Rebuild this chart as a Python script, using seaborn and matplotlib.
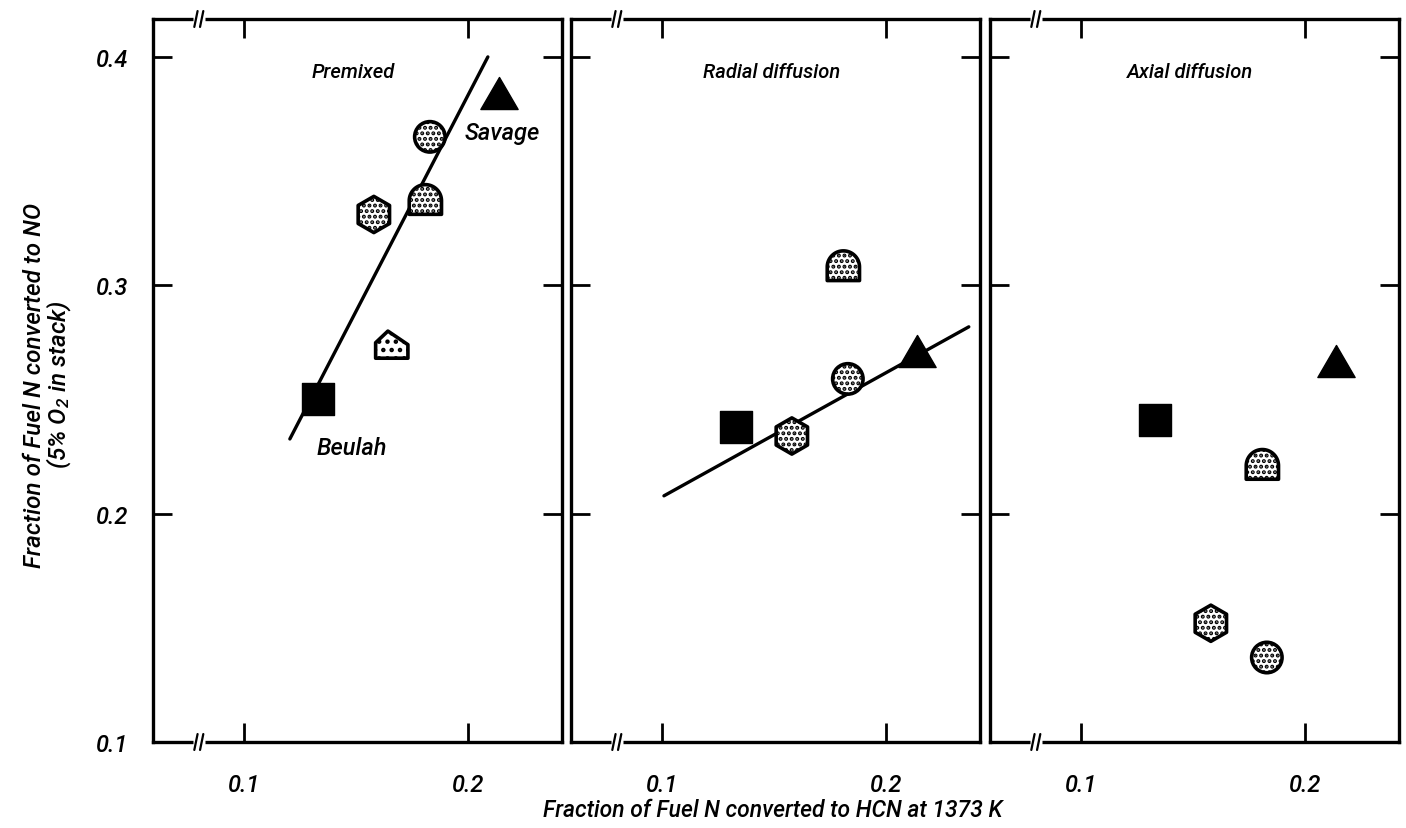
import numpy as np
import pandas as pd
import matplotlib
matplotlib.use("Agg")
import matplotlib.pyplot as plt
from matplotlib.path import Path
import seaborn as sns

# ---------------- data ----------------
coals = ["Beulah", "Savage", "Coal C", "Coal D", "Coal E", "Coal F"]
hcn_fraction = [0.133, 0.214, 0.183, 0.181, 0.158, 0.166]
no_premixed = [0.250, 0.384, 0.365, 0.337, 0.331, 0.274]
no_radial = [0.238, 0.271, 0.259, 0.308, 0.234, np.nan]
no_axial = [0.241, 0.267, 0.137, 0.221, 0.152, np.nan]
panel_titles = ["Premixed", "Radial diffusion", "Axial diffusion"]
premixed_fit_x = [0.1205, 0.2089]
premixed_fit_y = [0.2327, 0.400]
radial_fit_x = [0.1009, 0.237]
radial_fit_y = [0.2078, 0.2818]
x_ticks = [0.1, 0.2]
x_tick_labels = ["0.1", "0.2"]
y_ticks = [0.1, 0.2, 0.3, 0.4]
y_tick_labels = ["0.1", "0.2", "0.3", "0.4"]

# ---------------- style ----------------
sns.set_theme(style="white")
plt.rcParams["font.family"] = ["Roboto", "Liberation Sans", "DejaVu Sans"]
plt.rcParams["font.style"] = "italic"
plt.rcParams["font.weight"] = "medium"
plt.rcParams["text.color"] = "black"
plt.rcParams["xtick.color"] = "black"
plt.rcParams["ytick.color"] = "black"
plt.rcParams["mathtext.fontset"] = "custom"
plt.rcParams["mathtext.rm"] = "Roboto:italic:medium"
plt.rcParams["mathtext.it"] = "Roboto:italic:medium"
plt.rcParams["hatch.linewidth"] = 2.0
plt.rcParams["axes.edgecolor"] = "black"

# custom marker shapes
theta = np.linspace(0, np.pi, 40)
dome_verts = [(0.5 * np.cos(t), 0.5 * np.sin(t)) for t in theta]
dome_verts += [(-0.5, -0.42), (0.5, -0.42), (0.5, 0.0), (0.5, 0.0)]
dome = Path(dome_verts, closed=True)
house = Path([(-0.5, -0.42), (0.5, -0.42), (0.5, 0.0), (-0.12, 0.42),
              (-0.5, 0.06), (-0.5, -0.42)], closed=True)
tri = Path([(-0.5, -0.43), (0.5, -0.43), (0.0, 0.43), (-0.5, -0.43)], closed=True)

styles = {
    "Beulah": dict(marker="s", color="black", s=500, hatch=None, lw=1.0),
    "Savage": dict(marker=tri, color="black", s=720, hatch=None, lw=1.0),
    "Coal C": dict(marker="o", color="white", s=480, hatch="...", lw=2.6),
    "Coal D": dict(marker=dome, color="white", s=540, hatch="...", lw=2.6),
    "Coal E": dict(marker="h", color="white", s=680, hatch="...", lw=2.6),
    "Coal F": dict(marker=house, color="white", s=540, hatch="..", lw=2.6),
}

df = pd.DataFrame({
    "coal": coals * 3,
    "hcn": hcn_fraction * 3,
    "no": no_premixed + no_radial + no_axial,
    "mode": [panel_titles[0]] * 6 + [panel_titles[1]] * 6 + [panel_titles[2]] * 6,
})

W, H = 1406, 829
fig = plt.figure(figsize=(W / 100, H / 100), dpi=100)
lefts = [153, 571, 990]
axes = []
for i, l in enumerate(lefts):
    ax = fig.add_axes([l / W, (H - 743) / H, 409 / W, 723 / H])
    axes.append(ax)


def add_break(ax, xf):
    for yb in (0.0, 1.0):
        ax.plot([xf - 0.014, xf + 0.014], [yb, yb], transform=ax.transAxes,
                color="white", lw=5, clip_on=False, zorder=10,
                solid_capstyle="butt")
        for dx in (-0.007, 0.007):
            ax.plot([xf + dx - 0.004, xf + dx + 0.004], [yb - 0.011, yb + 0.011],
                    transform=ax.transAxes, color="black", lw=1.6,
                    clip_on=False, zorder=11)


for i, ax in enumerate(axes):
    mode = panel_titles[i]
    sub = df[(df["mode"] == mode) & df["no"].notna()]
    for c in coals:
        d = sub[sub["coal"] == c]
        if d.empty:
            continue
        st = styles[c]
        sns.scatterplot(data=d, x="hcn", y="no", ax=ax, marker=st["marker"],
                        s=st["s"], color=st["color"], edgecolor="black",
                        linewidth=st["lw"], zorder=3, legend=False)
        if st["hatch"]:
            ax.collections[-1].set_hatch(st["hatch"])
    if i == 0:
        sns.lineplot(x=premixed_fit_x, y=premixed_fit_y, ax=ax, color="black",
                     lw=2.4, zorder=2)
        ax.text(0.2152, 0.367, "Savage", fontsize=17, ha="center", va="center")
        ax.text(0.148, 0.229, "Beulah", fontsize=17, ha="center", va="center")
    if i == 1:
        sns.lineplot(x=radial_fit_x, y=radial_fit_y, ax=ax, color="black",
                     lw=2.4, zorder=2)

    ax.text(0.49, 0.928, mode, transform=ax.transAxes, fontsize=14.5,
            ha="center", va="center")

    ax.set_xlim(0.0594, 0.2420)
    ax.set_ylim(0.1, 0.4166)
    ax.set_xticks(x_ticks)
    ax.set_xticklabels(x_tick_labels, fontsize=17, style="italic")
    ax.set_yticks(y_ticks)
    ax.set_yticklabels(y_tick_labels, fontsize=17, style="italic")
    ax.tick_params(axis="both", direction="in", length=14, width=2,
                   top=True, right=True, bottom=True, left=True, colors="black")
    ax.tick_params(axis="x", pad=22)
    ax.tick_params(axis="y", pad=18)
    if i > 0:
        ax.tick_params(axis="y", labelleft=False)
    ax.set_xlabel("")
    ax.set_ylabel("")
    for sp in ax.spines.values():
        sp.set_linewidth(2.4)
        sp.set_color("black")
    add_break(ax, 0.112)

fig.text(773 / W, (H - 817) / H, "Fraction of Fuel N converted to HCN at 1373 K",
         fontsize=16.5, ha="center", va="baseline")
fig.text(48 / W, (H - 385) / H,
         "Fraction of Fuel N converted to NO\n(5% O$_2$ in stack)",
         fontsize=17.5, rotation=90, ha="center", va="center",
         multialignment="center", linespacing=0.9)

fig.savefig("out.png", dpi=100, facecolor="white")
